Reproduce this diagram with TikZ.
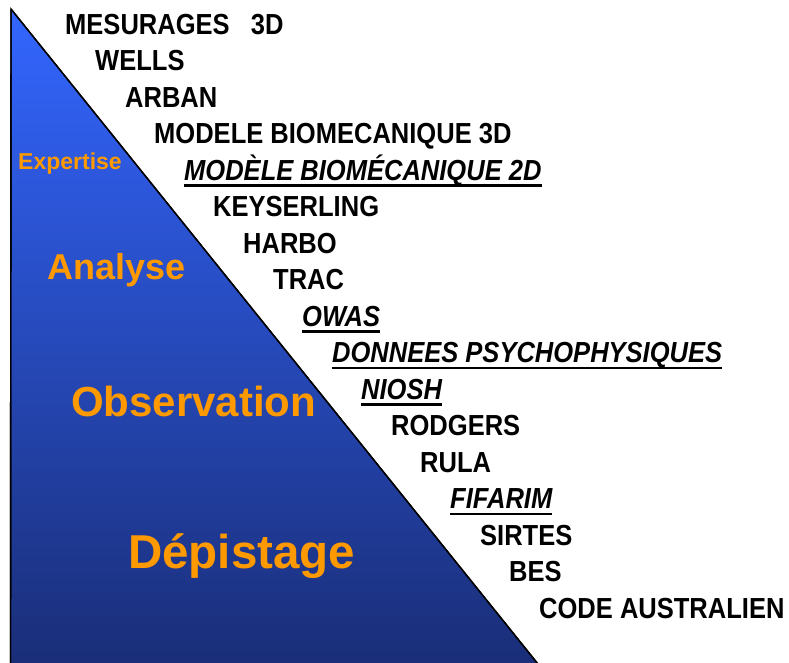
\documentclass[tikz,border=0pt]{standalone}
\usepackage{fontspec}
\setmainfont{Liberation Sans}
\newfontfamily\narrowf[FakeStretch=0.88,BoldFont={Liberation Sans Bold},BoldItalicFont={Liberation Sans Bold Italic}]{Liberation Sans}
\definecolor{topblue}{RGB}{51,102,255}
\definecolor{botblue}{RGB}{26,46,120}
\definecolor{lbl}{RGB}{255,153,0}
\tikzset{
  item/.style={anchor=base west,inner sep=0pt,font=\narrowf\bfseries\fontsize{29}{29}\selectfont},
  itemit/.style={item,font=\narrowf\bfseries\itshape\fontsize{29}{29}\selectfont},
  uline/.style={line width=2.6pt},
  level/.style={anchor=base west,inner sep=0pt,text=lbl,font=\bfseries\fontsize{#1}{#1}\selectfont},
  tri/.style={draw=black,line width=1.4pt,top color=topblue,bottom color=botblue}
}
\begin{document}
\begin{tikzpicture}[x=1pt,y=-1pt]
\useasboundingbox (0,0) rectangle (789,662);
\coordinate (A) at (11,9);
\coordinate (B) at (10.5,664);
\coordinate (C) at (538,664);
\shade[tri] (A) -- (B) -- (C) -- cycle;
\draw[line width=1.4pt] (A) -- (B) (A) -- (C);
% levels
\node[level=23] (expertise) at (18,169) {Expertise};
\node[level=36] (analyse) at (47,279) {Analyse};
\node[level=42] (observation) at (71,416) {Observation};
\node[level=47.5] (depistage) at (128,568) {Dépistage};
% methods
\node[item] (t1) at (65,34) {MESURAGES\ \ \ 3D};
\node[item] (t2) at (95,70.5) {WELLS};
\node[item] (t3) at (125,107) {ARBAN};
\node[item] (t4) at (154,143.5) {MODELE BIOMECANIQUE 3D};
\node[itemit] (t5) at (184,180) {MODÈLE BIOMÉCANIQUE 2D};
\node[item] (t6) at (213,216.5) {KEYSERLING};
\node[item] (t7) at (243,253) {HARBO};
\node[item] (t8) at (273,289.5) {TRAC};
\node[itemit] (t9) at (302,326) {OWAS};
\node[itemit] (t10) at (332,362.5) {DONNEES PSYCHOPHYSIQUES};
\node[itemit] (t11) at (361,399) {NIOSH};
\node[item] (t12) at (391,435.5) {RODGERS};
\node[item] (t13) at (420,472) {RULA};
\node[itemit] (t14) at (450,508.5) {FIFARIM};
\node[item] (t15) at (480,545) {SIRTES};
\node[item] (t16) at (509,581.5) {BES};
\node[item] (t17) at (539,618) {CODE AUSTRALIEN};
\foreach \n in {t5,t9,t10,t11,t14}
  \draw[uline] ([yshift=-5.5pt]\n.base west) -- ([yshift=-5.5pt]\n.base east);
\end{tikzpicture}
\end{document}
